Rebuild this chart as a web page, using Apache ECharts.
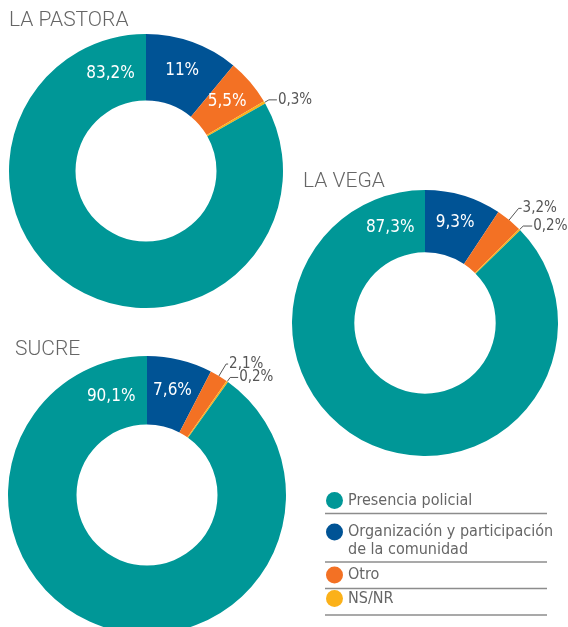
<!DOCTYPE html>
<html lang="es">

<head>
    <meta charset="UTF-8">
    <title>Presencia policial por zona</title>
    <script src="https://cdn.jsdelivr.net/npm/echarts@6.0.0/dist/echarts.min.js"></script>
</head>

<body style="margin:0;background:#fff;">

    <div id="main" style="width: 568px;height:627px;"></div>

    <script type="text/javascript">
        // Datos (orden de las porciones, desde las 12 en sentido horario)
        const categorias = ['Organización y participación de la comunidad', 'Otro', 'NS/NR', 'Presencia policial'];
        const laPastora = [11, 5.5, 0.3, 83.2];
        const laVega = [9.3, 3.2, 0.2, 87.3];
        const sucre = [7.6, 2.1, 0.2, 90.1];
        const ordenLeyenda = ['Presencia policial', 'Organización y participación de la comunidad', 'Otro', 'NS/NR'];

        const colores = ['#005395', '#f37124', '#fbb119', '#009797'];
        const fuenteCond = "'Liberation Sans Narrow', 'DejaVu Sans Condensed', sans-serif";

        function formato(v) {
            return String(v).replace('.', ',') + '%';
        }

        // Arma una serie de dona; "lineas" define el largo de las guías de las etiquetas externas
        function dona(nombre, valores, centro, radios, lineas) {
            const datos = valores.map((v, i) => {
                const item = { name: categorias[i], value: v };
                if (lineas[i]) {
                    item.label = { position: 'outside', color: '#555', fontSize: 15, distanceToLabelLine: 1 };
                    item.labelLine = { show: true, length: lineas[i][0], length2: lineas[i][1] };
                }
                return item;
            });
            return {
                name: nombre,
                type: 'pie',
                center: centro,
                radius: radios,
                startAngle: 90,
                avoidLabelOverlap: false,
                animation: false,
                label: {
                    show: true,
                    position: 'inside',
                    formatter: p => formato(p.value),
                    color: '#fff',
                    fontSize: 17,
                    fontFamily: fuenteCond
                },
                labelLine: { show: false, lineStyle: { color: '#555', width: 1 } },
                // la etiqueta de "Presencia policial" va cerca del final de su porción
                labelLayout: function (params) {
                    if (params.dataIndex !== 3) return;
                    const r = (radios[0] + radios[1]) / 2;
                    const a = -20 * Math.PI / 180;
                    return { x: centro[0] + r * Math.sin(a), y: centro[1] - r * Math.cos(a) };
                },
                emphasis: { disabled: true },
                data: datos
            };
        }

        function leyenda(nombre, top) {
            return {
                data: [nombre],
                left: 326,
                top: top,
                padding: 0,
                icon: 'circle',
                itemWidth: 17,
                itemHeight: 17,
                itemGap: 8,
                selectedMode: false,
                // línea en blanco al inicio para que el círculo quede junto a la primera línea
                formatter: n => n === categorias[0] ? ' \nOrganización y participación\nde la comunidad' : n,
                textStyle: {
                    color: '#666',
                    fontSize: 16,
                    lineHeight: 18,
                    fontFamily: fuenteCond
                }
            };
        }

        const chart = echarts.init(document.getElementById('main'));

        const estiloTitulo = { color: '#666', fontSize: 21, fontWeight: 300, fontFamily: 'Roboto, sans-serif' };
        const separadores = [513.5, 562, 588.5, 615].map(y => ({
            type: 'line',
            shape: { x1: 325, y1: y, x2: 547, y2: y },
            style: { stroke: '#8c8c8c', lineWidth: 1.5 }
        }));

        const option = {
            color: colores,
            title: [
                { text: 'LA PASTORA', left: 9, top: 10, padding: 0, textStyle: estiloTitulo },
                { text: 'LA VEGA', left: 303, top: 171, padding: 0, textStyle: estiloTitulo },
                { text: 'SUCRE', left: 15, top: 339, padding: 0, textStyle: estiloTitulo }
            ],
            legend: [
                leyenda(ordenLeyenda[0], 491.5),
                leyenda(ordenLeyenda[1], 505),
                leyenda(ordenLeyenda[2], 566),
                leyenda(ordenLeyenda[3], 589.5)
            ],
            graphic: separadores,
            series: [
                dona('LA PASTORA', laPastora, [146, 171], [70.5, 137], [null, null, [5, 8], null]),
                dona('LA VEGA', laVega, [425, 323], [70.7, 133], [null, [15, 3], [5, 9], null]),
                dona('SUCRE', sucre, [147, 495], [70.5, 139], [null, [14, 2], [5, 8], null])
            ]
        };

        chart.setOption(option);
    </script>
</body>

</html>
